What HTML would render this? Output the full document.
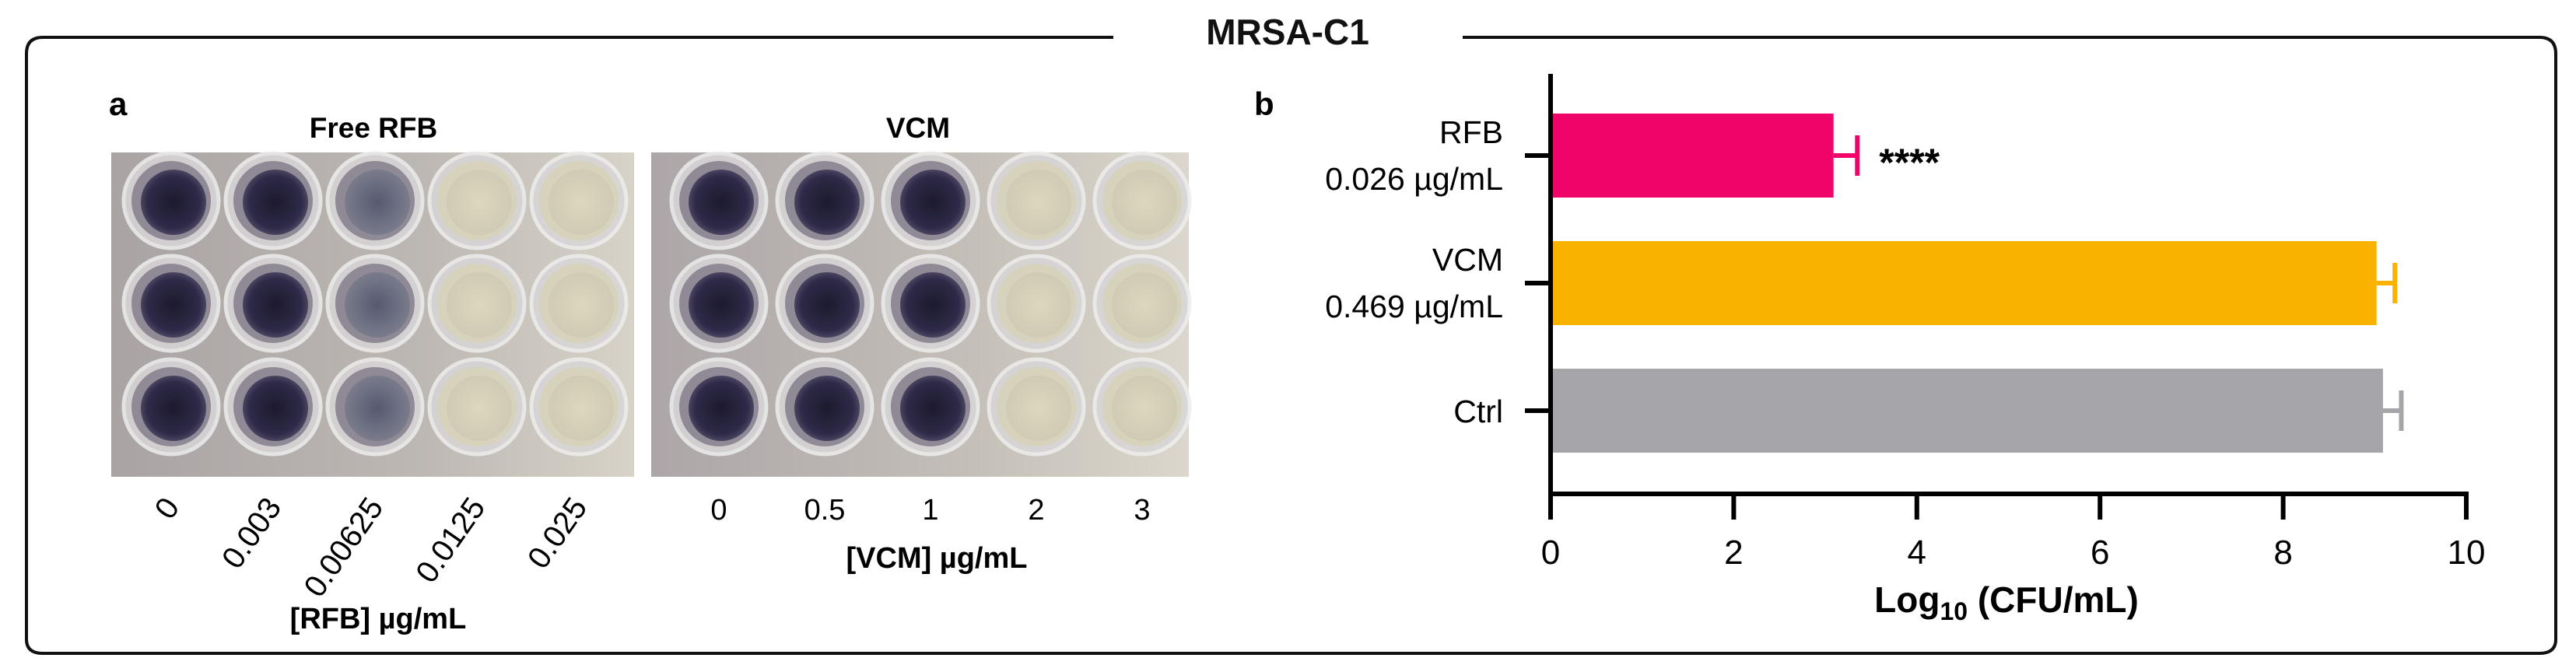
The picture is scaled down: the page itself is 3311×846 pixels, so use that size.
<!DOCTYPE html>
<html><head><meta charset="utf-8">
<style>
html,body{margin:0;padding:0;background:#fff;}
body{width:3311px;height:846px;overflow:hidden;position:relative;font-family:"Liberation Sans",sans-serif;}
svg{position:absolute;left:0;top:0;}
</style></head>
<body>
<svg id="fig" width="3311" height="846" viewBox="0 0 3311 846" xmlns="http://www.w3.org/2000/svg">
<defs>
<linearGradient id="plateL" x1="0" x2="1" y1="0" y2="0">
<stop offset="0" stop-color="#a9a3a4"/><stop offset="0.6" stop-color="#bdb8b3"/><stop offset="1" stop-color="#d8d3c8"/></linearGradient>
<linearGradient id="plateR" x1="0" x2="1" y1="0" y2="0">
<stop offset="0" stop-color="#aca6a8"/><stop offset="0.6" stop-color="#c4bfb8"/><stop offset="1" stop-color="#dcd7cc"/></linearGradient>
<radialGradient id="dark"><stop offset="0" stop-color="#1c1a2e"/><stop offset="0.8" stop-color="#2e2a48"/><stop offset="1" stop-color="#4a4560"/></radialGradient>
<radialGradient id="mid"><stop offset="0" stop-color="#555a70"/><stop offset="1" stop-color="#7a7c8c"/></radialGradient>
<radialGradient id="pale"><stop offset="0" stop-color="#dcd8be"/><stop offset="1" stop-color="#cfcbb4"/></radialGradient>
</defs>
<g id="frame">
<path d="M1431,48 L55,48 Q34,48 34,69 L34,822 Q34,840 55,840 L3264,840 Q3285,840 3285,822 L3285,69 Q3285,48 3264,48 L1880,48" fill="none" stroke="#111" stroke-width="4"/>
<text x="1655" y="57" text-anchor="middle" font-size="46" font-weight="bold" fill="#111">MRSA-C1</text>
</g>
<text x="140" y="148" font-size="42" font-weight="bold">a</text>
<text x="1612" y="148" font-size="42" font-weight="bold">b</text>
<text x="480" y="177" text-anchor="middle" font-size="37" font-weight="bold">Free RFB</text>
<text x="1180" y="177" text-anchor="middle" font-size="37" font-weight="bold">VCM</text>
<rect x="143" y="196" width="672" height="417" fill="url(#plateL)"/>
<rect x="837" y="196" width="691" height="417" fill="url(#plateR)"/>
<g id="wells"></g>
<g id="plateLabels"></g>
<text x="486" y="808" text-anchor="middle" font-size="38" font-weight="bold">[RFB] µg/mL</text>
<text x="1204" y="730" text-anchor="middle" font-size="38" font-weight="bold">[VCM] µg/mL</text>
<g id="chart"></g>
</svg>
<script>
const NS="http://www.w3.org/2000/svg";
function mk(tag,attrs,parent){const e=document.createElementNS(NS,tag);for(const k in attrs)e.setAttribute(k,attrs[k]);parent.appendChild(e);return e;}
// plates
const rfbConc=["0","0.003","0.00625","0.0125","0.025"];
const vcmConc=["0","0.5","1","2","3"];
const rfbWellState=["dark","dark","mid","pale","pale"];
const vcmWellState=["dark","dark","dark","pale","pale"];
const wells=document.getElementById('wells');
const pl=document.getElementById('plateLabels');
const rowsY=[258,390,523];
function drawPlate(states,x0,dx,labels,rot,name){
  states.forEach((s,i)=>{
    const cx=x0+i*dx;
    rowsY.forEach((cy,r)=>{
      const g=mk('g',{},wells);
      
      
      mk('circle',{cx:cx,cy:cy,r:61,fill:'#d9d6d8',stroke:'#eeeeee','stroke-width':5,opacity:0.85},g);
      mk('circle',{cx:cx,cy:cy,r:51,fill:s==='pale'?'#d6d2bc':'#8f8a96'},g);
      mk('circle',{cx:cx+3,cy:cy+2,r:42,fill:'url(#'+s+')'},g);
    });
    let t;
    if(rot){
      t=mk('text',{x:cx+12,y:652,'text-anchor':'end','font-size':40,transform:'rotate(-55 '+(cx+12)+' 652)'},pl);
    }else{
      t=mk('text',{x:cx,y:668,'text-anchor':'middle','font-size':38},pl);
    }
    t.textContent=labels[i];
    
    
  });
}
drawPlate(rfbWellState,220,131,rfbConc,true,'rfb');
drawPlate(vcmWellState,924,136,vcmConc,false,'vcm');

// bar chart
const categories=["RFB","VCM","Ctrl"];
const subLabels=["0.026 µg/mL","0.469 µg/mL",""];
const values=[3.09,9.02,9.09];
const errors=[0.26,0.2,0.2];
const colors=["#f0046a","#f9b200","#a6a5aa"];
const xTicks=[0,2,4,6,8,10];
const ch=document.getElementById('chart');
const X0=1993,X1=3170,XMAX=10;
const xs=v=>X0+(X1-X0)*v/XMAX;
const yc=i=>200+i*164;
const BH=108;
mk('line',{x1:X0,y1:95,x2:X0,y2:638,stroke:'#000','stroke-width':6},ch);
mk('line',{x1:X0-3,y1:635,x2:X1+3,y2:635,stroke:'#000','stroke-width':6},ch);
xTicks.forEach(v=>{
  const l=mk('line',{x1:xs(v),y1:635,x2:xs(v),y2:668,stroke:'#000','stroke-width':6},ch);
  
  
  const t=mk('text',{x:xs(v),y:725,'text-anchor':'middle','font-size':44},ch);
  t.textContent=v;
  
  
});
categories.forEach((c,i)=>{
  const y=yc(i);
  const b=mk('rect',{x:X0+3,y:y-BH/2,width:xs(values[i])-X0-3,height:BH,fill:colors[i]},ch);
  
  
  const e=mk('path',{d:'M'+xs(values[i])+','+y+' H'+xs(values[i]+errors[i])+' M'+xs(values[i]+errors[i])+','+(y-26)+' V'+(y+26),stroke:colors[i],'stroke-width':6,fill:'none'},ch);
  
  
  const tk=mk('line',{x1:X0-33,y1:y,x2:X0,y2:y,stroke:'#000','stroke-width':6},ch);
  
  
  if(subLabels[i]){
    const t1=mk('text',{x:1932,y:y-16,'text-anchor':'end','font-size':41},ch);t1.textContent=c;
    
    
    const t2=mk('text',{x:1932,y:y+44,'text-anchor':'end','font-size':41},ch);t2.textContent=subLabels[i];
    
    
  }else{
    const t1=mk('text',{x:1932,y:y+15,'text-anchor':'end','font-size':41},ch);t1.textContent=c;
    
    
  }
});
const st=mk('text',{x:xs(values[0]+errors[0])+28,y:yc(0)+26,'font-size':50,'font-weight':'bold'},ch);
st.textContent="****";


const xt=mk('text',{x:2579,y:787,'text-anchor':'middle','font-size':46,'font-weight':'bold'},ch);


xt.innerHTML='Log<tspan font-size="32" dy="10">10</tspan><tspan dy="-10"> (CFU/mL)</tspan>';
</script>
</body></html>
